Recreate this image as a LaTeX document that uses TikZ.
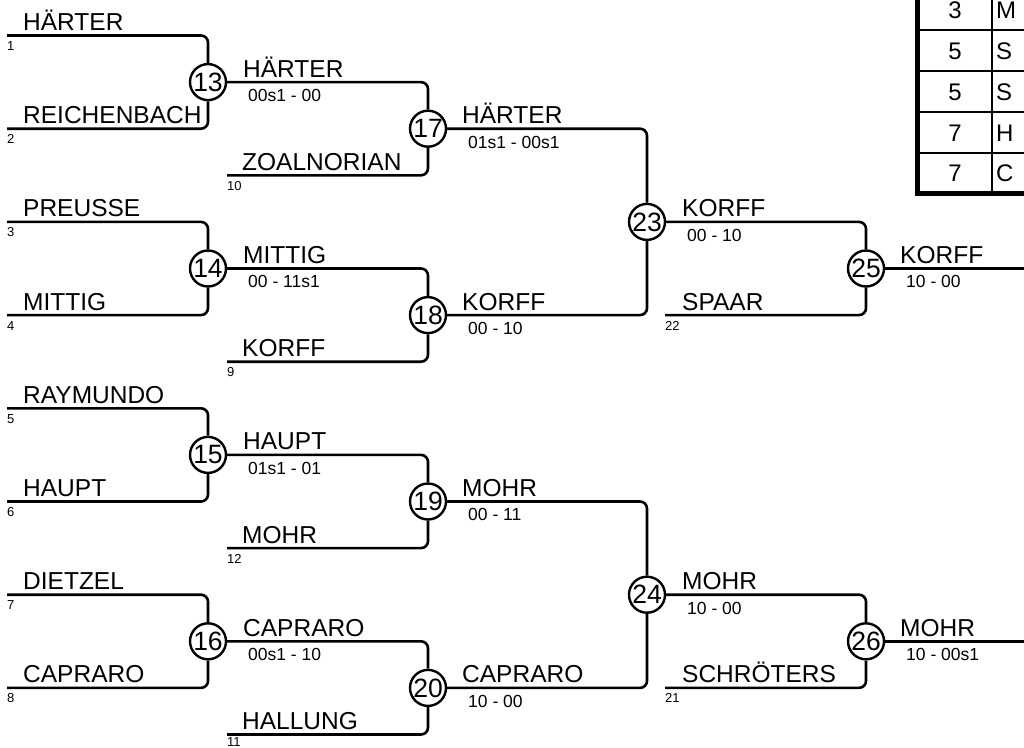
\documentclass[tikz,border=0pt]{standalone}
\usepackage{fontspec}
\setmainfont{Liberation Sans}
\begin{document}
\begin{tikzpicture}[x=1pt,y=-1pt,
  line/.style={line width=2.6pt, rounded corners=7pt},
  mcircle/.style={circle, draw, line width=2.4pt, minimum size=36pt, inner sep=0pt, fill=white, font=\fontsize{26.5}{26.5}\selectfont},
  pname/.style={anchor=base west, inner sep=0pt, font=\fontsize{24.5}{26}\selectfont},
  score/.style={anchor=base west, inner sep=0pt, font=\fontsize{17.5}{18}\selectfont},
  seed/.style={anchor=base west, inner sep=0pt, text depth=0pt, font=\fontsize{13}{13}\selectfont},
  tabtext/.style={anchor=base, inner sep=0pt, font=\fontsize{24}{24}\selectfont},
  tabletter/.style={anchor=base west, inner sep=0pt, font=\fontsize{24}{24}\selectfont},
  thinrule/.style={line width=2.5pt},
  thickrule/.style={line width=5pt},
]
\useasboundingbox (0,0) rectangle (1024,747);
\clip (0,0) rectangle (1024,747);

% ---------- match circles ----------
\node[mcircle] (c13) at (208,82.1) {13};
\node[mcircle] (c14) at (208,268.5) {14};
\node[mcircle] (c15) at (208,454.9) {15};
\node[mcircle] (c16) at (208,641.3) {16};
\node[mcircle] (c17) at (428,128.7) {17};
\node[mcircle] (c18) at (428,315.1) {18};
\node[mcircle] (c19) at (428,501.5) {19};
\node[mcircle] (c20) at (428,687.9) {20};
\node[mcircle] (c23) at (647,221.9) {23};
\node[mcircle] (c24) at (647,594.7) {24};
\node[mcircle] (c25) at (866,268.5) {25};
\node[mcircle] (c26) at (866,641.3) {26};

% ---------- entrants ----------
\coordinate (p1) at (7,35.5);
\coordinate (p2) at (7,128.7);
\coordinate (p3) at (7,221.9);
\coordinate (p4) at (7,315.1);
\coordinate (p5) at (7,408.3);
\coordinate (p6) at (7,501.5);
\coordinate (p7) at (7,594.7);
\coordinate (p8) at (7,687.9);
\coordinate (p10) at (227,175.3);
\coordinate (p9) at (227,361.7);
\coordinate (p12) at (227,548.1);
\coordinate (p11) at (227,734.5);
\coordinate (p22) at (665,315.1);
\coordinate (p21) at (665,687.9);

\node[pname] (n1) at (23,30.5) {HÄRTER};
\node[pname] (n2) at (23,123.7) {REICHENBACH};
\node[pname] (n3) at (23,216.9) {PREUSSE};
\node[pname] (n4) at (23,310.1) {MITTIG};
\node[pname] (n5) at (23,403.3) {RAYMUNDO};
\node[pname] (n6) at (23,496.5) {HAUPT};
\node[pname] (n7) at (23,589.7) {DIETZEL};
\node[pname] (n8) at (23,682.9) {CAPRARO};
\node[pname] (n10) at (242,170.3) {ZOALNORIAN};
\node[pname] (n9) at (242,356.7) {KORFF};
\node[pname] (n12) at (242,543.1) {MOHR};
\node[pname] (n11) at (242,729.5) {HALLUNG};
\node[pname] (n22) at (682,310.1) {SPAAR};
\node[pname] (n21) at (682,682.9) {SCHRÖTERS};

\node[seed] (s1) at (7,50.5) {1};
\node[seed] (s2) at (7,143.7) {2};
\node[seed] (s3) at (7,236.9) {3};
\node[seed] (s4) at (7,330.1) {4};
\node[seed] (s5) at (7,423.3) {5};
\node[seed] (s6) at (7,516.5) {6};
\node[seed] (s7) at (7,609.7) {7};
\node[seed] (s8) at (7,702.9) {8};
\node[seed] (s10) at (227,190.3) {10};
\node[seed] (s9) at (227,376.7) {9};
\node[seed] (s12) at (227,563.1) {12};
\node[seed] (s11) at (227,746.2) {11};
\node[seed] (s22) at (665,330.1) {22};
\node[seed] (s21) at (665,702.9) {21};

% ---------- connectors ----------
\draw[line] (p1) -| (c13);
\draw[line] (p2) -| (c13);
\draw[line] (p3) -| (c14);
\draw[line] (p4) -| (c14);
\draw[line] (p5) -| (c15);
\draw[line] (p6) -| (c15);
\draw[line] (p7) -| (c16);
\draw[line] (p8) -| (c16);

\draw[line] (c13) -| (c17);
\draw[line] (p10) -| (c17);
\draw[line] (c14) -| (c18);
\draw[line] (p9) -| (c18);
\draw[line] (c15) -| (c19);
\draw[line] (p12) -| (c19);
\draw[line] (c16) -| (c20);
\draw[line] (p11) -| (c20);

\draw[line] (c17) -| (c23);
\draw[line] (c18) -| (c23);
\draw[line] (c19) -| (c24);
\draw[line] (c20) -| (c24);

\draw[line] (c23) -| (c25);
\draw[line] (p22) -| (c25);
\draw[line] (c24) -| (c26);
\draw[line] (p21) -| (c26);

\coordinate (e25) at (1024,268.5);
\coordinate (e26) at (1024,641.3);
\draw[line] (c25) -- (e25);
\draw[line] (c26) -- (e26);

% ---------- winners and scores ----------
\node[pname] (w13) at (243,77.1) {HÄRTER};
\node[score] (r13) at (248,101.5) {00s1 - 00};
\node[pname] (w14) at (243,263.5) {MITTIG};
\node[score] (r14) at (248,287.9) {00 - 11s1};
\node[pname] (w15) at (243,449.9) {HAUPT};
\node[score] (r15) at (248,474.3) {01s1 - 01};
\node[pname] (w16) at (243,636.3) {CAPRARO};
\node[score] (r16) at (248,660.7) {00s1 - 10};

\node[pname] (w17) at (462,123.7) {HÄRTER};
\node[score] (r17) at (468,148.1) {01s1 - 00s1};
\node[pname] (w18) at (462,310.1) {KORFF};
\node[score] (r18) at (468,334.5) {00 - 10};
\node[pname] (w19) at (462,496.5) {MOHR};
\node[score] (r19) at (468,520.9) {00 - 11};
\node[pname] (w20) at (462,682.9) {CAPRARO};
\node[score] (r20) at (468,707.3) {10 - 00};

\node[pname] (w23) at (682,216.9) {KORFF};
\node[score] (r23) at (687,241.3) {00 - 10};
\node[pname] (w24) at (682,589.7) {MOHR};
\node[score] (r24) at (687,614.1) {10 - 00};

\node[pname] (w25) at (900,263.5) {KORFF};
\node[score] (r25) at (906,287.9) {10 - 00};
\node[pname] (w26) at (900,636.3) {MOHR};
\node[score] (r26) at (906,660.7) {10 - 00s1};

% ---------- ranking table (cut at the page edge) ----------
\draw[thinrule] (917,30) -- (1030,30);
\draw[thinrule] (917,71) -- (1030,71);
\draw[thinrule] (917,112) -- (1030,112);
\draw[thinrule] (917,153) -- (1030,153);
\draw[thinrule] (992,-20) -- (992,193);
\draw[thickrule] (917,-20) -- (917,193) -- (1030,193);

\node[tabtext] (t1) at (955,18) {3};
\node[tabtext] (t2) at (955,59) {5};
\node[tabtext] (t3) at (955,100) {5};
\node[tabtext] (t4) at (955,141) {7};
\node[tabtext] (t5) at (955,181) {7};
\node[tabletter] (u1) at (996,18) {M};
\node[tabletter] (u2) at (996,59) {S};
\node[tabletter] (u3) at (996,100) {S};
\node[tabletter] (u4) at (996,141) {H};
\node[tabletter] (u5) at (996,181) {C};
\end{tikzpicture}
\end{document}
